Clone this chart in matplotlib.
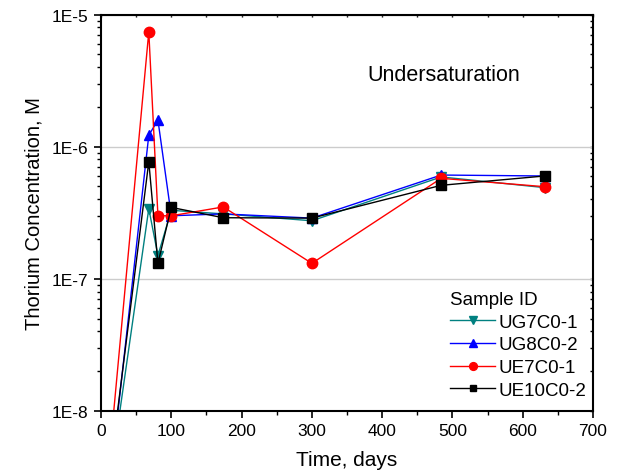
import matplotlib
matplotlib.use("Agg")
import matplotlib.pyplot as plt
from matplotlib.ticker import LogLocator, FixedLocator, MultipleLocator, NullFormatter

plt.rcParams['font.family'] = ['Liberation Sans', 'DejaVu Sans']

# Data
t_ug7 = [0, 68, 81, 100, 174, 300, 484, 631]
c_ug7 = [1.0e-9, 3.4e-7, 1.5e-7, 3.3e-7, 3.1e-7, 2.75e-7, 5.9e-7, 4.9e-7]

t_ug8 = [0, 68, 81, 100, 174, 300, 484, 631]
c_ug8 = [7.0e-10, 1.22e-6, 1.59e-6, 3.0e-7, 3.1e-7, 2.88e-7, 6.1e-7, 6.0e-7]

t_ue7 = [0, 68, 81, 100, 174, 300, 484, 631]
c_ue7 = [9.0e-10, 7.4e-6, 3.0e-7, 3.0e-7, 3.5e-7, 1.31e-7, 5.76e-7, 4.98e-7]

t_ue10 = [0, 68, 81, 100, 174, 300, 484, 631]
c_ue10 = [1.0e-9, 7.7e-7, 1.31e-7, 3.47e-7, 2.9e-7, 2.88e-7, 5.1e-7, 6.0e-7]

labels = ['UG7C0-1', 'UG8C0-2', 'UE7C0-1', 'UE10C0-2']
y_ticks = [1e-8, 1e-7, 1e-6, 1e-5]
y_ticklabels = ['1E-8', '1E-7', '1E-6', '1E-5']
x_ticks = [0, 100, 200, 300, 400, 500, 600, 700]

fig = plt.figure(figsize=(6.21, 4.77), dpi=100)
ax = fig.add_axes([101/621, 1-412/477, (593-101)/621, (412-15.5)/477])

ax.plot(t_ug7, c_ug7, color='#008080', marker='v', markersize=7.5, lw=1, label=labels[0])
ax.plot(t_ug8, c_ug8, color='#0000ff', marker='^', markersize=7.5, lw=1, label=labels[1])
ax.plot(t_ue7, c_ue7, color='#ff0000', marker='o', markersize=7.5, lw=1, label=labels[2])
ax.plot(t_ue10, c_ue10, color='#000000', marker='s', markersize=6.5, lw=1, label=labels[3])

ax.set_yscale('log')
ax.set_ylim(1e-8, 1e-5)
ax.set_xlim(0, 700)
ax.yaxis.set_major_locator(FixedLocator(y_ticks))
ax.set_yticklabels(y_ticklabels)
ax.yaxis.set_minor_locator(LogLocator(base=10, subs=range(2, 10)))
ax.yaxis.set_minor_formatter(NullFormatter())
ax.xaxis.set_major_locator(FixedLocator(x_ticks))
ax.xaxis.set_minor_locator(MultipleLocator(50))

ax.grid(axis='y', which='major', color='#cccccc', lw=1)
ax.set_axisbelow(True)

for s in ax.spines.values():
    s.set_linewidth(1.5)

ax.tick_params(axis='both', which='major', direction='out', length=5, width=1.2,
               labelsize=12.5, pad=4)
ax.tick_params(axis='both', which='minor', direction='out', length=3, width=1)

# mirror ticks on top and right (short, inward)
secx = ax.secondary_xaxis('top')
secx.xaxis.set_major_locator(FixedLocator(x_ticks))
secx.xaxis.set_minor_locator(MultipleLocator(50))
secx.tick_params(which='both', direction='in', length=2, width=1, labeltop=False)
secx.spines['top'].set_visible(False)
secy = ax.secondary_yaxis('right')
secy.set_yscale('log')
secy.yaxis.set_major_locator(FixedLocator(y_ticks))
secy.yaxis.set_minor_locator(LogLocator(base=10, subs=range(2, 10)))
secy.yaxis.set_minor_formatter(NullFormatter())
secy.tick_params(which='both', direction='in', length=2, width=1, labelright=False)
secy.spines['right'].set_visible(False)

ax.set_xlabel('Time, days', fontsize=15, labelpad=8)
ax.set_ylabel('Thorium Concentration, M', fontsize=14.5, labelpad=6)

ax.text(0.541, 0.835, 'Undersaturation', transform=ax.transAxes, fontsize=15.5)

leg = ax.legend(title='Sample ID', loc='lower right', bbox_to_anchor=(1.02, -0.012),
                fontsize=13.5, title_fontsize=13.5,
                frameon=False, borderaxespad=0.6, markerscale=0.75,
                handlelength=2.4, handletextpad=0.15, labelspacing=0.3, borderpad=0.3)
leg._legend_box.align = 'left'

fig.savefig('out.png', dpi=100)
